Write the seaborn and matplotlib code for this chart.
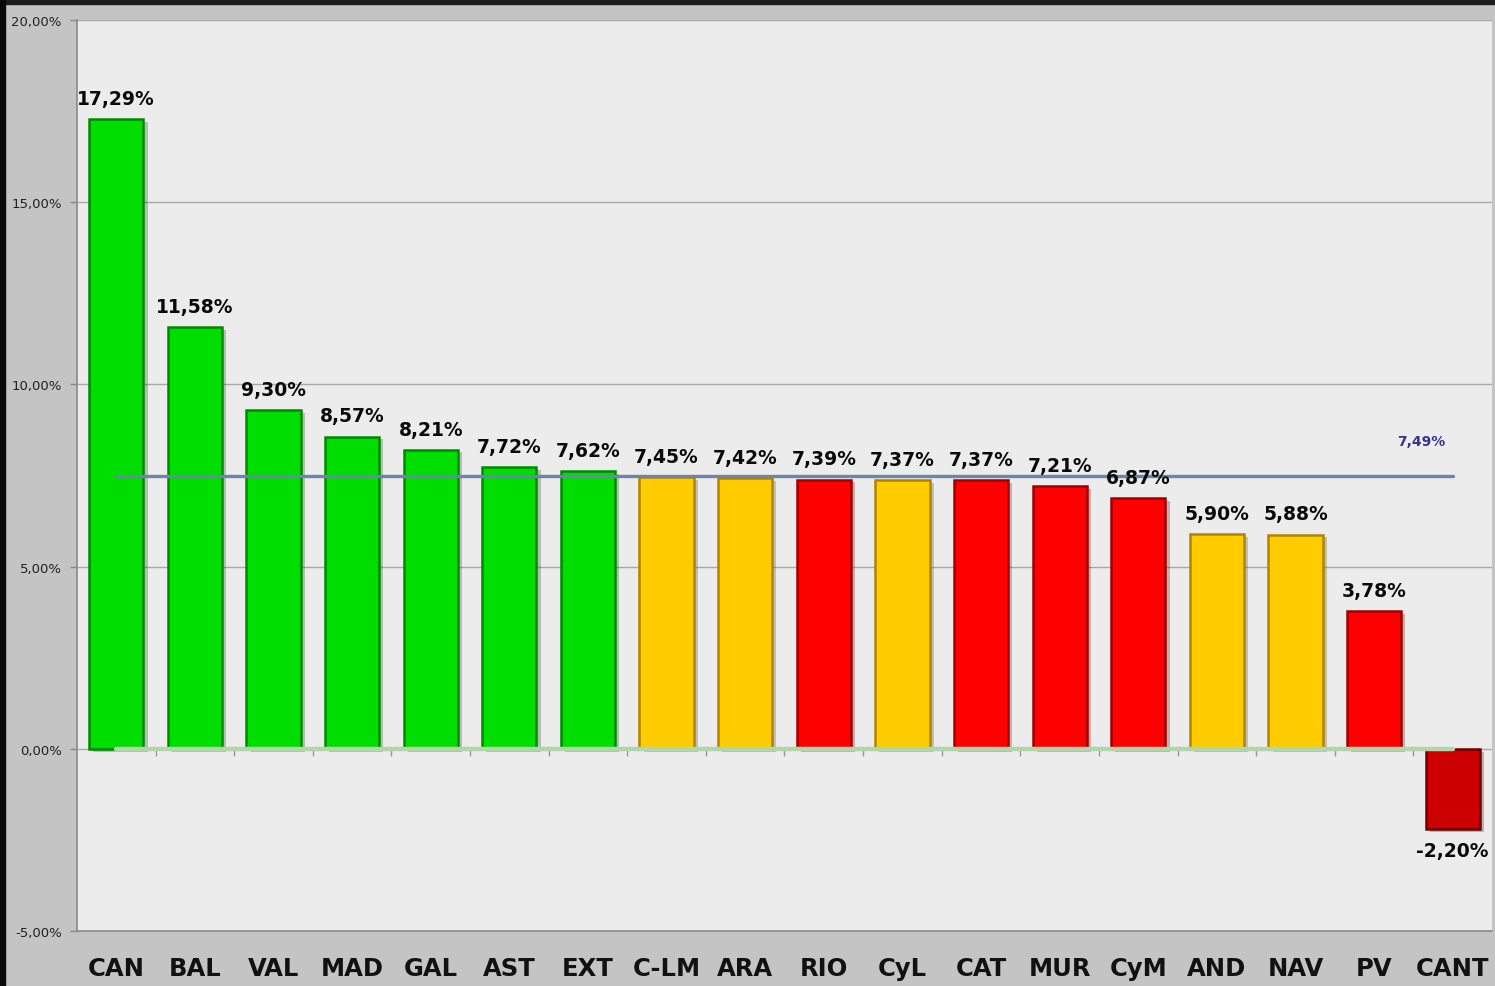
import numpy as np
import pandas as pd
import matplotlib
matplotlib.use("Agg")
import matplotlib.pyplot as plt
import matplotlib.patheffects as pe
from matplotlib.patches import Rectangle
import seaborn as sns

# data
regions = ["CAN", "BAL", "VAL", "MAD", "GAL", "AST", "EXT", "C-LM", "ARA",
           "RIO", "CyL", "CAT", "MUR", "CyM", "AND", "NAV", "PV", "CANT"]
values = [17.29, 11.58, 9.30, 8.57, 8.21, 7.72, 7.62, 7.45, 7.42,
          7.39, 7.37, 7.37, 7.21, 6.87, 5.90, 5.88, 3.78, -2.20]
groups = ["G", "G", "G", "G", "G", "G", "G", "Y", "Y",
          "R", "Y", "R", "R", "R", "Y", "Y", "R", "D"]
average = 7.49
yticks = [-5, 0, 5, 10, 15, 20]

fill = {"G": "#00dd00", "Y": "#ffcc00", "R": "#ff0000", "D": "#cc0000"}
edge = {"G": "#008a00", "Y": "#b08400", "R": "#a00000", "D": "#6a0000"}

df = pd.DataFrame({"region": regions, "value": values, "group": groups})

sns.set_style("white")
plt.rcParams["font.family"] = ["DejaVu Sans"]

fig = plt.figure(figsize=(14.95, 9.87), dpi=100, facecolor="#c4c4c4")
ax = fig.add_axes([77 / 1495, 55 / 987, 1415 / 1495, 911 / 987])
ax.set_facecolor("#ececec")

sns.barplot(data=df, x="region", y="value", hue="region",
            palette=[fill[g] for g in groups], legend=False,
            width=0.69, saturation=1, ax=ax, zorder=3)
for bar, g in zip(ax.patches, groups):
    bar.set_edgecolor(edge[g])
    bar.set_linewidth(1.8)
    bar.set_path_effects([pe.SimplePatchShadow(offset=(3, -2), alpha=0.25),
                          pe.Normal()])

# value labels
for i, v in enumerate(values):
    txt = f"{v:.2f}%".replace(".", ",")
    if v >= 0:
        ax.annotate(txt, (i, v), xytext=(0, 8), textcoords="offset points",
                    ha="center", va="bottom", fontsize=13.5, fontweight="heavy",
                    color="#0a0a0a", zorder=6)
    else:
        ax.annotate(txt, (i, v), xytext=(0, -9), textcoords="offset points",
                    ha="center", va="top", fontsize=13.5, fontweight="heavy",
                    color="#0a0a0a", zorder=6)

n = len(regions)
# zero line and average line
ax.plot([0, n - 1], [0, 0], color="#b2d6aa", lw=3.2, zorder=4,
        solid_capstyle="round")
ax.plot([0, n - 1], [average, average], color="#6a86a8", lw=2.4, zorder=5,
        solid_capstyle="round")
ax.text(n - 1.4, average + 0.95, f"{average:.2f}%".replace(".", ","),
        color="#343494", fontsize=10, fontweight="bold", ha="center",
        va="center", zorder=6)

# category separator ticks at the zero line
ax.vlines(np.arange(0.5, n - 0.5), -0.2, 0, color="#9a9a9a", lw=1, zorder=2)

ax.set_xlim(-0.5, n - 0.5)
ax.set_ylim(-5, 20)
ax.set_yticks(yticks)
ax.set_yticklabels([f"{t:.2f}%".replace(".", ",") for t in yticks],
                   fontsize=9.5, color="#222222")
ax.yaxis.grid(True, color="#a8a8a8", lw=1, zorder=0)
ax.set_axisbelow(True)
ax.tick_params(axis="y", length=5, width=1, color="#8a8a8a", pad=6, left=True)
ax.tick_params(axis="x", length=0, pad=18, labelsize=17.5, labelcolor="#111111")
for lbl in ax.get_xticklabels():
    lbl.set_fontweight("bold")
ax.set_xlabel("")
ax.set_ylabel("")
for side in ["top", "right"]:
    ax.spines[side].set_visible(False)
for side in ["left", "bottom"]:
    ax.spines[side].set_color("#8a8a8a")
    ax.spines[side].set_linewidth(1.2)

# dark frame at the top and left edges of the image
fig.patches.append(Rectangle((0, 1 - 5 / 987), 1, 5 / 987, transform=fig.transFigure,
                             color="#1e1e1e", zorder=-1))
fig.patches.append(Rectangle((0, 0), 5 / 1495, 1, transform=fig.transFigure,
                             color="#0a0a0a", zorder=-1))

fig.savefig("out.png", dpi=100, facecolor=fig.get_facecolor())
